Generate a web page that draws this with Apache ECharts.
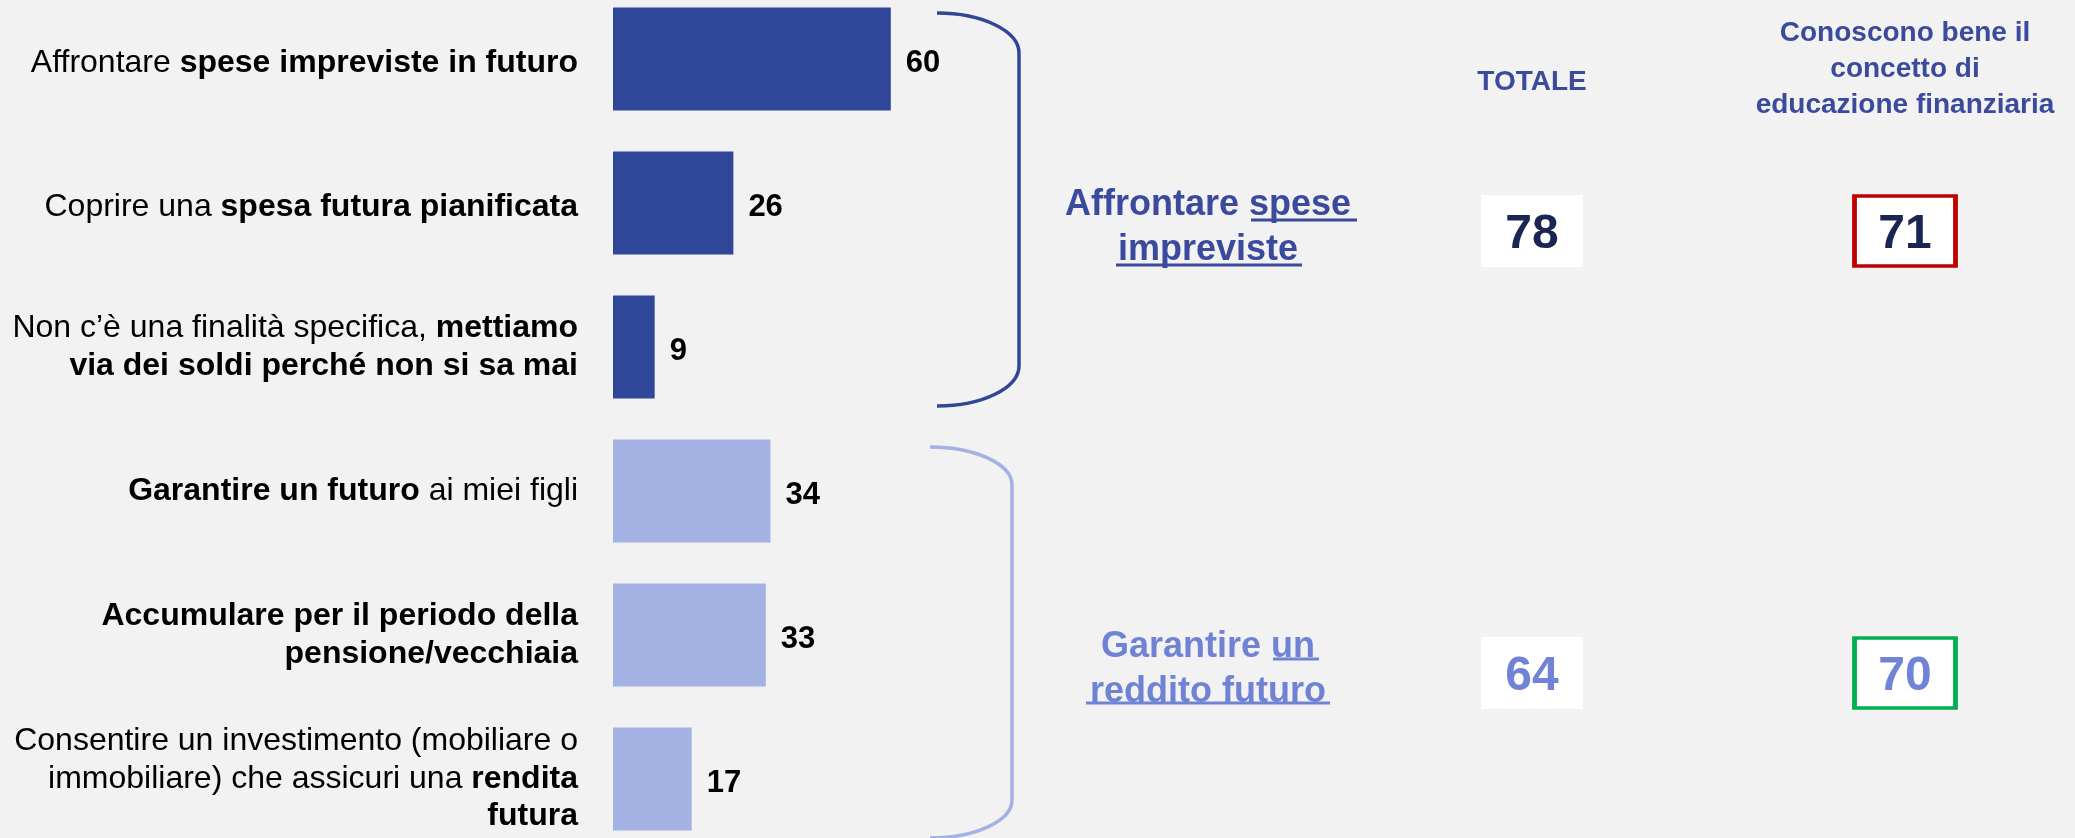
<!DOCTYPE html>
<html>
<head>
<meta charset="utf-8">
<script src="https://cdn.jsdelivr.net/npm/echarts@6/dist/echarts.min.js"></script>
<style>
  html, body { margin: 0; padding: 0; background: #F2F2F2; }
  #chart { width: 2075px; height: 838px; }
</style>
</head>
<body>
<div id="chart"></div>
<script>
  // motivi del risparmio (%)
  const categories = [
    'Affrontare spese impreviste in futuro',
    'Coprire una spesa futura pianificata',
    'Non c’è una finalità specifica, mettiamo via dei soldi perché non si sa mai',
    'Garantire un futuro ai miei figli',
    'Accumulare per il periodo della pensione/vecchiaia',
    'Consentire un investimento (mobiliare o immobiliare) che assicuri una rendita futura'
  ]
  // etichette con parti in grassetto
  const categoryLabels = [
    '{rd|Affrontare }{bd|spese impreviste in futuro}',
    '{rd|Coprire una }{bd|spesa futura pianificata}',
    '{r|Non c’è una finalità specifica, }{b|mettiamo}\n{b|via dei soldi perché non si sa mai}',
    '{b|Garantire un futuro}{r| ai miei figli}',
    '{b|Accumulare per il periodo della}\n{b|pensione/vecchiaia}',
    '{r|Consentire un investimento (mobiliare o}\n{r|immobiliare) che assicuri una }{b|rendita}\n{b|futura}'
  ]
  const values = [60, 26, 9, 34, 33, 17]
  const categoryGroup = [0, 0, 0, 1, 1, 1]

  // gruppi e valori di sintesi
  const groups = ['Affrontare spese impreviste', 'Garantire un reddito futuro']
  const groupLabels = [
    '{g0|Affrontare spese}\n{g0|impreviste}',
    '{g1|Garantire un}\n{g1|reddito futuro}'
  ]
  const columns = ['TOTALE', 'Conoscono bene il\nconcetto di\neducazione finanziaria']
  const totale = [78, 64]
  const conoscono = [71, 70]

  const FONT = '"Liberation Sans", Arial, sans-serif'
  const barColors = ['#2F4699', '#A3B1E3']
  const groupColors = ['#3B4A9C', '#6F82D4']
  const numberColors = ['#1B2553', '#7083D6']
  const boxBorders = ['#C00000', '#00B050']

  const chart = echarts.init(document.getElementById('chart'))

  /** 括号：上下两段曲线 + 竖线 */
  function bracket(x0, y0, x1, y1, rx, ry, color) {
    const k = 0.552
    return {
      type: 'group',
      silent: true,
      children: [
        {
          type: 'bezierCurve',
          shape: { x1: x0, y1: y0, cpx1: x0 + rx * k, cpy1: y0, cpx2: x1, cpy2: y0 + ry - ry * k, x2: x1, y2: y0 + ry },
          style: { stroke: color, lineWidth: 3.5, fill: null }
        },
        {
          type: 'line',
          shape: { x1: x1, y1: y0 + ry, x2: x1, y2: y1 - ry },
          style: { stroke: color, lineWidth: 3.5 }
        },
        {
          type: 'bezierCurve',
          shape: { x1: x1, y1: y1 - ry, cpx1: x1, cpy1: y1 - ry + ry * k, cpx2: x0 + rx * k, cpy2: y1, x2: x0, y2: y1 },
          style: { stroke: color, lineWidth: 3.5, fill: null }
        }
      ]
    }
  }

  function underline(x1, x2, y, color) {
    return {
      type: 'line',
      silent: true,
      shape: { x1: x1, y1: y, x2: x2, y2: y },
      style: { stroke: color, lineWidth: 3 }
    }
  }

  chart.setOption({
    backgroundColor: '#F2F2F2',
    animation: false,
    grid: [
      { left: 613, top: -13, width: 463, height: 864, outerBoundsMode: 'none', containLabel: false },
      { left: 1532, top: 231, width: 373, height: 442, outerBoundsMode: 'none', containLabel: false }
    ],
    xAxis: [
      { type: 'value', gridIndex: 0, min: 0, max: 100, show: false },
      {
        type: 'category',
        gridIndex: 1,
        position: 'top',
        data: columns,
        boundaryGap: false,
        axisLine: { show: false },
        axisTick: { show: false },
        splitLine: { show: false },
        axisLabel: {
          margin: 108,
          verticalAlign: 'bottom',
          align: 'center',
          formatter: (v, i) => i === 0 ? '{t|' + v + '}' : v.split('\n').map(s => '{h|' + s + '}').join('\n'),
          rich: {
            t: { fontFamily: FONT, fontSize: 28, fontWeight: 'bold', color: groupColors[0], lineHeight: 36, padding: [0, 0, 45, 0] },
            h: { fontFamily: FONT, fontSize: 28, fontWeight: 'bold', color: groupColors[0], lineHeight: 36 }
          }
        }
      }
    ],
    yAxis: [
      {
        type: 'category',
        gridIndex: 0,
        inverse: true,
        data: categories,
        axisLine: { show: false },
        axisTick: { show: false },
        axisLabel: {
          margin: 35,
          align: 'right',
          formatter: (v, i) => categoryLabels[i],
          rich: {
            r: { fontFamily: FONT, fontSize: 32, color: '#000', lineHeight: 37.5 },
            b: { fontFamily: FONT, fontSize: 32, fontWeight: 'bold', color: '#000', lineHeight: 37.5 },
            rd: { fontFamily: FONT, fontSize: 32, color: '#000', lineHeight: 37.5, padding: [8, 0, 0, 0] },
            bd: { fontFamily: FONT, fontSize: 32, fontWeight: 'bold', color: '#000', lineHeight: 37.5, padding: [8, 0, 0, 0] }
          }
        }
      },
      {
        type: 'category',
        gridIndex: 1,
        inverse: true,
        data: groups,
        boundaryGap: false,
        axisLine: { show: false },
        axisTick: { show: false },
        splitLine: { show: false },
        axisLabel: {
          margin: 324,
          align: 'center',
          padding: [0, 0, 6, 0],
          formatter: (v, i) => groupLabels[i],
          rich: {
            g0: { fontFamily: FONT, fontSize: 36, fontWeight: 'bold', color: groupColors[0], lineHeight: 45 },
            g1: { fontFamily: FONT, fontSize: 36, fontWeight: 'bold', color: groupColors[1], lineHeight: 45 }
          }
        }
      }
    ],
    series: [
      {
        type: 'bar',
        xAxisIndex: 0,
        yAxisIndex: 0,
        barWidth: 103,
        data: values.map((v, i) => ({ value: v, itemStyle: { color: barColors[categoryGroup[i]] } })),
        label: {
          show: true,
          position: 'right',
          distance: 15,
          offset: [0, 4],
          fontFamily: FONT,
          fontSize: 31,
          fontWeight: 'bold',
          color: '#000'
        }
      },
      {
        type: 'scatter',
        xAxisIndex: 1,
        yAxisIndex: 1,
        symbol: 'rect',
        symbolSize: [102, 72],
        data: totale.map((v, i) => ({
          value: [0, i, v],
          label: { color: numberColors[i] }
        })),
        itemStyle: { color: '#fff', opacity: 1 },
        label: {
          show: true,
          position: 'inside',
          offset: [0, 4],
          formatter: p => p.value[2],
          fontFamily: FONT,
          fontSize: 48,
          fontWeight: 'bold'
        }
      },
      {
        type: 'scatter',
        xAxisIndex: 1,
        yAxisIndex: 1,
        symbol: 'rect',
        symbolSize: [101, 70],
        data: conoscono.map((v, i) => ({
          value: [1, i, v],
          itemStyle: { borderColor: boxBorders[i] },
          label: { color: numberColors[i] }
        })),
        itemStyle: { color: '#fff', borderWidth: 4, opacity: 1 },
        label: {
          show: true,
          position: 'inside',
          offset: [0, 4],
          formatter: p => p.value[2],
          fontFamily: FONT,
          fontSize: 48,
          fontWeight: 'bold'
        }
      }
    ],
    graphic: [
      bracket(937, 13, 1019, 406, 82, 40, '#2F4699'),
      bracket(930, 447, 1012, 838, 82, 38, '#A3B1E3'),
      underline(1251, 1357, 220, groupColors[0]),
      underline(1116, 1302, 265, groupColors[0]),
      underline(1273, 1319, 659, groupColors[1]),
      underline(1086, 1330, 703, groupColors[1])
    ]
  })
</script>
</body>
</html>
